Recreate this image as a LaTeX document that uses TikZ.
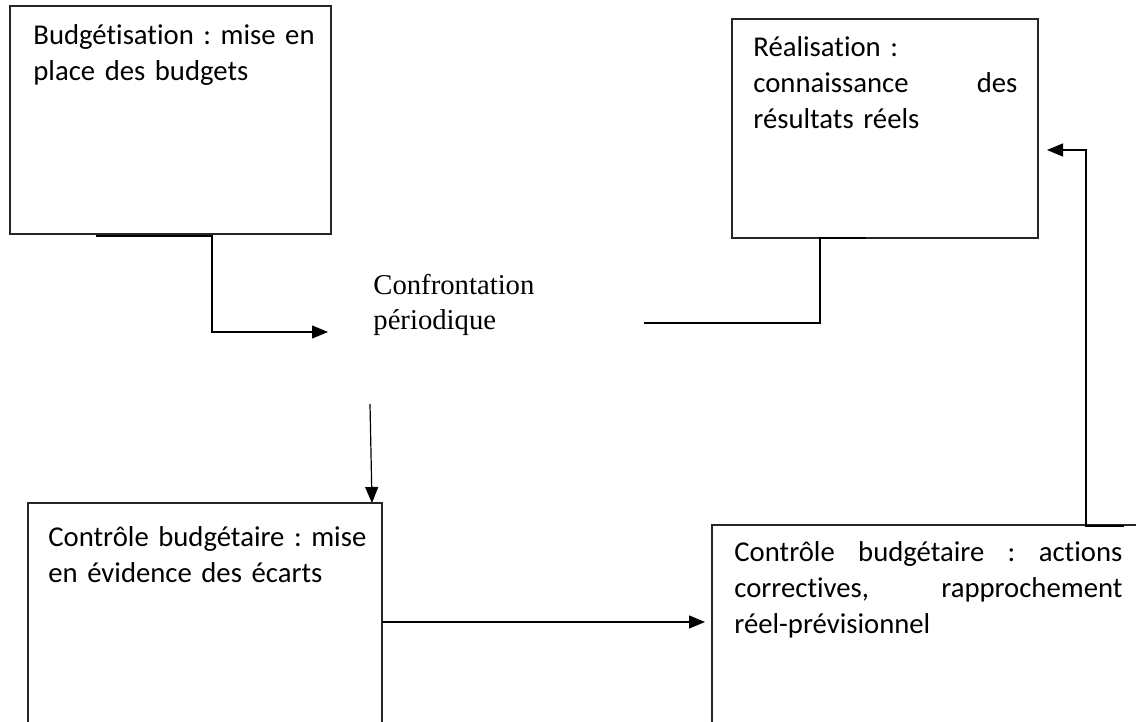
\documentclass[tikz,border=0pt]{standalone}
\usepackage{fontspec}
\setmainfont{Carlito}[Ligatures=NoCommon]
\newfontfamily\serifface{Liberation Serif}
\usetikzlibrary{arrows.meta,calc}
\frenchspacing

\begin{document}
\begin{tikzpicture}[
  x=0.5pt, y=-0.5pt,
  box/.style={draw=black!85, line width=0.7pt, inner sep=0pt, outer sep=0pt, anchor=north west},
  boxtext/.style={inner sep=0pt, anchor=base west, align=left,
    font=\fontsize{14.35pt}{18pt}\selectfont},
  wire/.style={draw=black, line width=0.6pt},
  tip/.style={-{Triangle[length=8pt,width=6.5pt]}}
]
\path[use as bounding box] (0,0) rectangle (1136,722);
\clip (0,0) rectangle (1136,722);

% the four stage boxes
\node[box, minimum width=160.5pt, minimum height=114pt] (b1) at (10,6) {};
\node[box, minimum width=153pt, minimum height=109.5pt] (b2) at (732,19) {};
\node[box, minimum width=177pt, minimum height=150pt] (b3) at (28,503) {};
\node[box, minimum width=250pt, minimum height=150pt] (b4) at (712,525) {};

% box texts
\node[boxtext, text width=145pt] (t1) at (33,45)
  {Budgétisation : mise en\\place des budgets};
\node[boxtext, text width=132pt] (t2) at (753,57)
  {Réalisation :\\connaissance\hfill des\\résultats réels};
\node[boxtext, text width=165pt] (t3) at (48,546)
  {Contrôle budgétaire : mise\\en évidence des écarts};
\node[boxtext, text width=194pt] (t4) at (734,561)
  {Contrôle\hfill budgétaire\hfill :\hfill actions\\correctives,\hfill rapprochement\\réel-prévisionnel};

% central label
\node[inner sep=0pt, anchor=base west, align=left, text width=100pt,
      font=\serifface\fontsize{14.35pt}{17.5pt}\selectfont] (c) at (373,294)
  {Confrontation\\périodique};

% connectors
\coordinate (p1) at ($(b1.south west)+(86,2)$);
\coordinate (q1) at ($(c.base west)+(-45,38)$);
\draw[wire, tip] (p1) -- ++(116,0) |- (q1);

\coordinate (p2) at ($(b2.south west)+(134,0)$);
\coordinate (q2) at ($(c.base west)+(271,29)$);
\draw[wire] (p2) -- ++(-46,0) |- (q2);

\coordinate (q3) at ($(c.base west)+(-3,110)$);
\draw[wire, tip] (q3) -- ($(b3.north east)+(-10,0)$);

\draw[wire, tip] ($(b3.north east)+(0,119)$) -- ($(b4.north west)+(-7,97)$);

\coordinate (p5) at ($(b4.north west)+(412,1)$);
\draw[wire, tip] (p5) -- ++(-38,0) |- ($(b2.north east)+(9,131)$);
\end{tikzpicture}
\end{document}
